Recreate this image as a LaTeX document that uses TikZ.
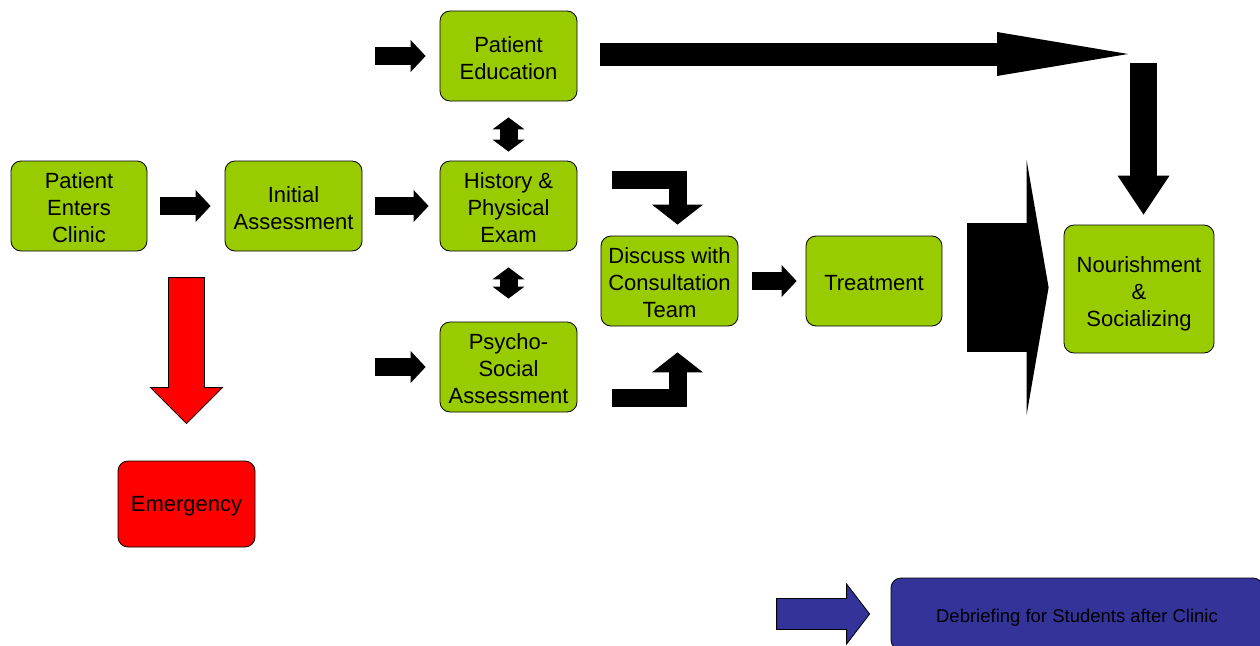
\documentclass[tikz,border=0pt]{standalone}
\usepackage{fontspec}
\setmainfont{Liberation Sans}
\usetikzlibrary{arrows.meta}
\definecolor{leaf}{HTML}{99CC00}
\definecolor{alarm}{HTML}{FF0000}
\definecolor{navy}{HTML}{333399}
\newcommand{\boxtop}[1][20pt]{\rule{0pt}{#1}}
\tikzset{
  greenbox/.style={draw=black, line width=0.8pt, fill=leaf, rounded corners=10pt,
    align=center, inner sep=1pt, minimum width=137pt, minimum height=90pt,
    font=\fontsize{22}{27}\selectfont},
  blk/.style={line width=18pt, -{Triangle[width=32pt,length=15pt,line width=0pt]}},
  dbl/.style={line width=18pt, {Triangle[width=32pt,length=12pt,line width=0pt]}-{Triangle[width=32pt,length=12pt,line width=0pt]}},
  elbow/.style={line width=18pt, -{Triangle[width=51pt,length=20pt,line width=0pt]}}
}
\begin{document}
\begin{tikzpicture}[x=1pt,y=-1pt]
\path[use as bounding box, clip] (0,0) rectangle (1260,645);
% stages
\node[greenbox, minimum width=136pt] (enter) at (79,206) {\boxtop Patient\\Enters\\Clinic};
\node[greenbox] (initial) at (293.5,206) {\boxtop Initial\\Assessment};
\node[greenbox] (educ) at (508.5,56) {\boxtop Patient\\Education};
\node[greenbox] (history) at (508.5,206) {\boxtop History \&\\Physical\\Exam};
\node[greenbox] (psycho) at (508.5,367) {\boxtop Psycho-\\Social\\Assessment};
\node[greenbox] (discuss) at (669.5,281) {\boxtop Discuss with\\Consultation\\Team};
\node[greenbox, minimum width=136pt] (treat) at (874,281) {\boxtop Treatment};
\node[greenbox, minimum width=150pt, minimum height=128pt] (nourish) at (1139,289) {\boxtop[26pt]Nourishment\\\&\\Socializing};
\node[greenbox, fill=alarm, minimum height=86pt] (emerg) at (186.5,504) {\boxtop Emergency};
\node[greenbox, fill=navy, minimum width=372pt, minimum height=72pt,
  font=\fontsize{18.5}{22}\selectfont] (debrief) at (1077,614) {\boxtop Debriefing for Students after Clinic};
% free ends
\coordinate (educ-in) at (375,56);
\coordinate (psycho-in) at (375,367);
\coordinate (corner) at (1128,54);
\coordinate (drop) at (1143.5,63);
\coordinate (merge-hi) at (612,179.5);
\coordinate (merge-lo) at (612,398);
% small arrows
\draw[blk] ([xshift=13pt]enter.east) -- ([xshift=-14pt]initial.west);
\draw[blk] ([xshift=13pt]initial.east) -- ([xshift=-11pt]history.west);
\draw[blk] (educ-in) -- ([xshift=-14pt]educ.west);
\draw[blk] (psycho-in) -- ([xshift=-14pt]psycho.west);
\draw[blk] ([xshift=14pt]discuss.east) -- ([xshift=-9pt]treat.west);
\draw[dbl] ([yshift=-16pt]educ.south) -- ([yshift=9pt]history.north);
\draw[dbl] ([yshift=-16pt]history.south) -- ([yshift=23pt]psycho.north);
% into the team meeting
\draw[elbow] (merge-hi) -| ([xshift=8pt,yshift=11pt]discuss.north);
\draw[elbow] (merge-lo) -| ([xshift=8pt,yshift=-26pt]discuss.south);
% long way round
\draw[line width=23pt, -{Triangle[width=44pt,length=131pt,line width=0pt]}] ([xshift=23pt,yshift=2pt]educ.east) -- (corner);
\draw[line width=27pt, -{Triangle[width=52pt,length=39pt,line width=0pt]}] (drop) -- ([xshift=4.5pt,yshift=10pt]nourish.north);
% big chevron
\draw[line width=129pt, -{Triangle[width=255pt,length=22pt,line width=0pt]}] ([xshift=25pt,yshift=-6.5pt]treat.east) -- ([xshift=-15pt,yshift=1.5pt]nourish.west);
% emergency
\filldraw[fill=alarm, draw=black, line width=0.8pt] ([yshift=37pt]emerg.north) -- ++(-36,-36) -- ++(18,0) -- ++(0,-110)
  -- ++(36,0) -- ++(0,110) -- ++(18,0) -- cycle;
% debriefing
\filldraw[fill=navy, draw=black, line width=0.8pt] ([xshift=-21pt]debrief.west) -- ++(-23,-30) -- ++(0,14.5) -- ++(-70,0)
  -- ++(0,31) -- ++(70,0) -- ++(0,14.5) -- cycle;
\end{tikzpicture}
\end{document}
